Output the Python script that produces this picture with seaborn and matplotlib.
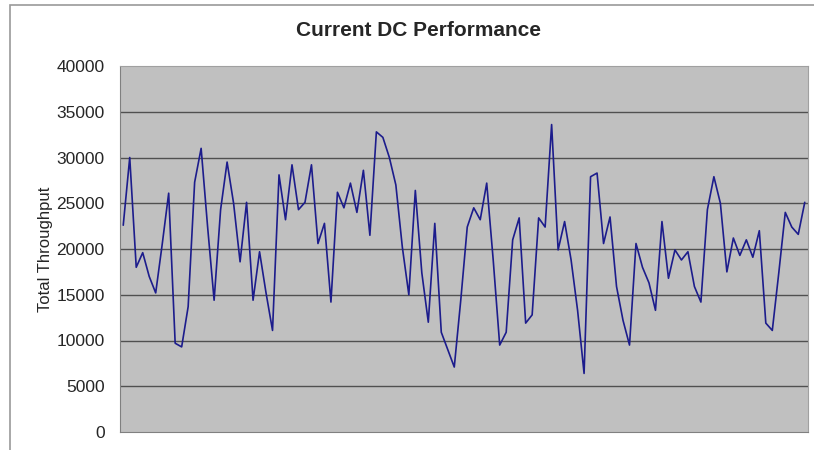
import pandas as pd
import matplotlib
matplotlib.use("Agg")
import matplotlib.pyplot as plt
import seaborn as sns
from matplotlib.patches import Rectangle

# Throughput values (one per period)
throughput = [
    22600, 30000, 18000, 19600, 17000, 15200, 20500, 26100, 9700, 9300,
    13700, 27300, 31000, 22400, 14400, 24300, 29500, 25000, 18600, 25100,
    14400, 19700, 15200, 11100, 28100, 23200, 29200, 24300, 25100, 29200,
    20600, 22800, 14200, 26200, 24500, 27200, 24000, 28600, 21500, 32800,
    32200, 30000, 27000, 20200, 15000, 26400, 17400, 12000, 22800, 10900,
    9000, 7100, 14400, 22400, 24500, 23200, 27200, 18800, 9500, 10900,
    21000, 23400, 11900, 12800, 23400, 22400, 33600, 19900, 23000, 18800,
    13300, 6400, 27900, 28300, 20600, 23500, 15900, 12200, 9500, 20600,
    18000, 16300, 13300, 23000, 16800, 19900, 18800, 19700, 15900, 14200,
    24300, 27900, 25000, 17500, 21200, 19300, 21000, 19100, 22000, 11900,
    11100, 17400, 24000, 22400, 21600, 25100,
]
period = list(range(len(throughput)))
y_ticks = [0, 5000, 10000, 15000, 20000, 25000, 30000, 35000, 40000]

data = pd.DataFrame({"period": period, "throughput": throughput})

sns.set_style("white")
plt.rcParams["font.family"] = ["Liberation Sans", "DejaVu Sans"]

fig = plt.figure(figsize=(8.14, 4.5), dpi=100)
ax = fig.add_axes([120 / 814, 1 - 432 / 450, 688 / 814, 366 / 450])

# chart frame
fig.patches.append(Rectangle((10 / 814, -0.1), 1.1, 1 - 5 / 450 + 0.1,
                             transform=fig.transFigure, fill=False,
                             edgecolor="#9a9a9a", linewidth=1.2))

ax.set_facecolor("#c0c0c0")
for y in y_ticks[1:-1]:
    ax.axhline(y, color="#505050", linewidth=1.0, zorder=1)

sns.lineplot(x="period", y="throughput", data=data, ax=ax,
             color="#1c1c8c", linewidth=1.2, zorder=3)

ax.set_xlim(-0.5, len(throughput) - 0.5)
ax.set_ylim(0, 40000)
ax.set_yticks(y_ticks)
ax.set_yticklabels([str(v) for v in y_ticks], fontsize=12.5)
ax.set_xticks([])
ax.set_xlabel("")
ax.set_ylabel("Total Throughput", fontsize=12)
ax.yaxis.set_label_coords(-0.097, 0.5)
ax.tick_params(axis="y", length=0, pad=11)
for side in ["top", "right"]:
    ax.spines[side].set_color("#a0a0a0")
for side in ["left", "bottom"]:
    ax.spines[side].set_color("#808080")

fig.text(0.514, 1 - 31 / 450, "Current DC Performance", ha="center",
         va="center", fontsize=15, fontweight="bold")

plt.savefig("out.png", dpi=100)
